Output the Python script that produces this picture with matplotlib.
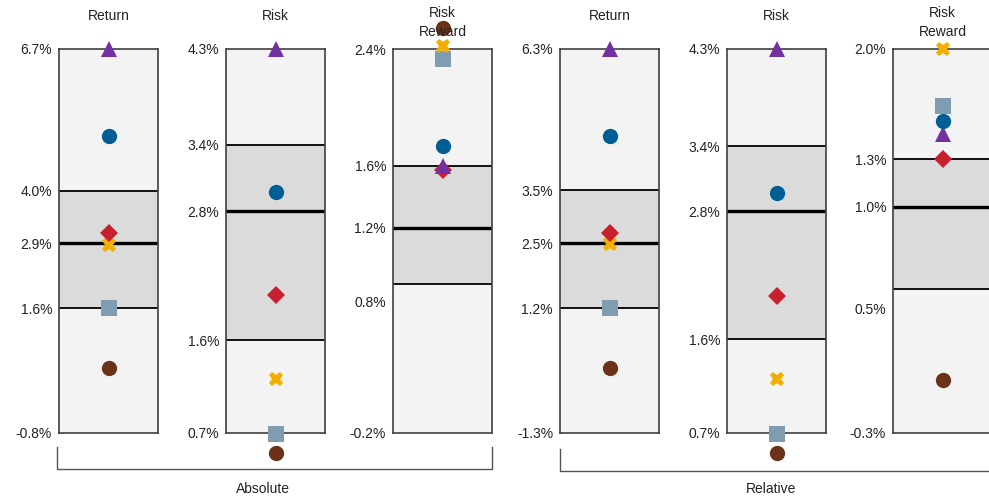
import matplotlib
matplotlib.use("Agg")
import matplotlib.pyplot as plt
from matplotlib.lines import Line2D

plt.rcParams['font.family'] = ['Liberation Sans', 'DejaVu Sans']

# ---- data ----
panel_titles = ["Return", "Risk", "Risk\nReward", "Return", "Risk", "Risk\nReward"]
group_labels = ["Absolute", "Relative"]

# axis range (min / max) and box stats: lower quartile, median, upper quartile
axis_min = [-0.8, 0.7, -0.2, -1.3, 0.7, -0.3]
axis_max = [6.7, 4.3, 2.4, 6.3, 4.3, 2.0]
box_q1 = [1.64, 1.57, 0.81, 1.17, 1.58, 0.56]
box_med = [2.91, 2.78, 1.19, 2.46, 2.78, 1.055]
box_q3 = [3.93, 3.40, 1.61, 3.50, 3.39, 1.34]

# tick positions and labels for each panel
tick_pos = [
    [-0.8, 1.64, 2.91, 3.93, 6.7],
    [0.7, 1.57, 2.78, 3.40, 4.3],
    [-0.2, 0.69, 1.19, 1.61, 2.4],
    [-1.3, 1.17, 2.46, 3.50, 6.3],
    [0.7, 1.58, 2.78, 3.39, 4.3],
    [-0.3, 0.447, 1.055, 1.34, 2.0],
]
tick_labels = [
    ["-0.8%", "1.6%", "2.9%", "4.0%", "6.7%"],
    ["0.7%", "1.6%", "2.8%", "3.4%", "4.3%"],
    ["-0.2%", "0.8%", "1.2%", "1.6%", "2.4%"],
    ["-1.3%", "1.2%", "2.5%", "3.5%", "6.3%"],
    ["0.7%", "1.6%", "2.8%", "3.4%", "4.3%"],
    ["-0.3%", "0.5%", "1.0%", "1.3%", "2.0%"],
]

# marker series (one value per panel)
square_vals = [1.64, 0.69, 2.33, 1.17, 0.69, 1.66]
cross_vals = [2.87, 1.21, 2.42, 2.44, 1.21, 2.0]
diamond_vals = [3.11, 1.99, 1.58, 2.65, 1.98, 1.34]
triangle_vals = [6.7, 4.3, 1.61, 6.3, 4.3, 1.49]
brown_vals = [0.47, 0.51, 2.54, -0.02, 0.51, 0.02]
blue_vals = [5.0, 2.96, 1.74, 4.58, 2.95, 1.57]

series = [
    (square_vals, 's', '#7F9CB0', 11.5),
    (cross_vals, 'X', '#F2AF00', 10.5),
    (diamond_vals, 'D', '#C8202F', 9.0),
    (triangle_vals, '^', '#7330A0', 11.5),
    (brown_vals, 'o', '#6B3219', 11.0),
    (blue_vals, 'o', '#005E95', 11.0),
]

# ---- layout ----
W, H = 989, 500
fig = plt.figure(figsize=(W / 100, H / 100), dpi=100)
box_left_px = [59, 226, 393, 560, 727, 893]
box_w_px = 99
box_top_px, box_bot_px = 49, 433

light = '#F3F3F3'
mid = '#DBDBDB'

for i in range(6):
    ax = fig.add_axes([box_left_px[i] / W, 1 - box_bot_px / H,
                       box_w_px / W, (box_bot_px - box_top_px) / H])
    lo, hi = axis_min[i], axis_max[i]
    ax.set_ylim(lo, hi)
    ax.set_xlim(0, 1)
    ax.set_facecolor(light)
    ax.axhspan(box_q1[i], box_q3[i], color=mid, zorder=1, lw=0)
    ax.axhline(box_q1[i], color='black', lw=1.3, zorder=2)
    ax.axhline(box_q3[i], color='black', lw=1.3, zorder=2)
    ax.axhline(box_med[i], color='black', lw=2.4, zorder=2)
    for sp in ax.spines.values():
        sp.set_color('#404040')
        sp.set_linewidth(1.2)
        sp.set_zorder(3)
    ax.set_xticks([])
    ax.set_yticks(tick_pos[i])
    ax.set_yticklabels(tick_labels[i])
    ax.tick_params(axis='y', length=0, pad=5, labelsize=10, labelcolor='#222222')
    for vals, m, c, ms in series:
        ax.plot([0.5], [vals[i]], marker=m, color=c, markersize=ms,
                markeredgewidth=0, linestyle='none', clip_on=False, zorder=5)
    # title
    if "\n" in panel_titles[i]:
        ty = 22.5
    else:
        ty = 16
    fig.text((box_left_px[i] + box_w_px / 2) / W, 1 - ty / H, panel_titles[i],
             ha='center', va='center', fontsize=10, color='#222222',
             linespacing=1.42, zorder=10)

# group brackets
bracket_color = '#555555'
def bracket(x0, x1, ytop, ybot):
    xs = [x0 / W, x0 / W, x1 / W, x1 / W]
    ys = [1 - ytop / H, 1 - ybot / H, 1 - ybot / H, 1 - ytop / H]
    fig.add_artist(Line2D(xs, ys, color=bracket_color, lw=1.0,
                          transform=fig.transFigure))

bracket(57, 492, 447, 469)
bracket(560, 1000, 449, 471)
fig.text(263 / W, 1 - 489 / H, group_labels[0], ha='center', va='center',
         fontsize=10, color='#222222')
fig.text(771 / W, 1 - 489 / H, group_labels[1], ha='center', va='center',
         fontsize=10, color='#222222')

fig.savefig('out.png', dpi=100)
